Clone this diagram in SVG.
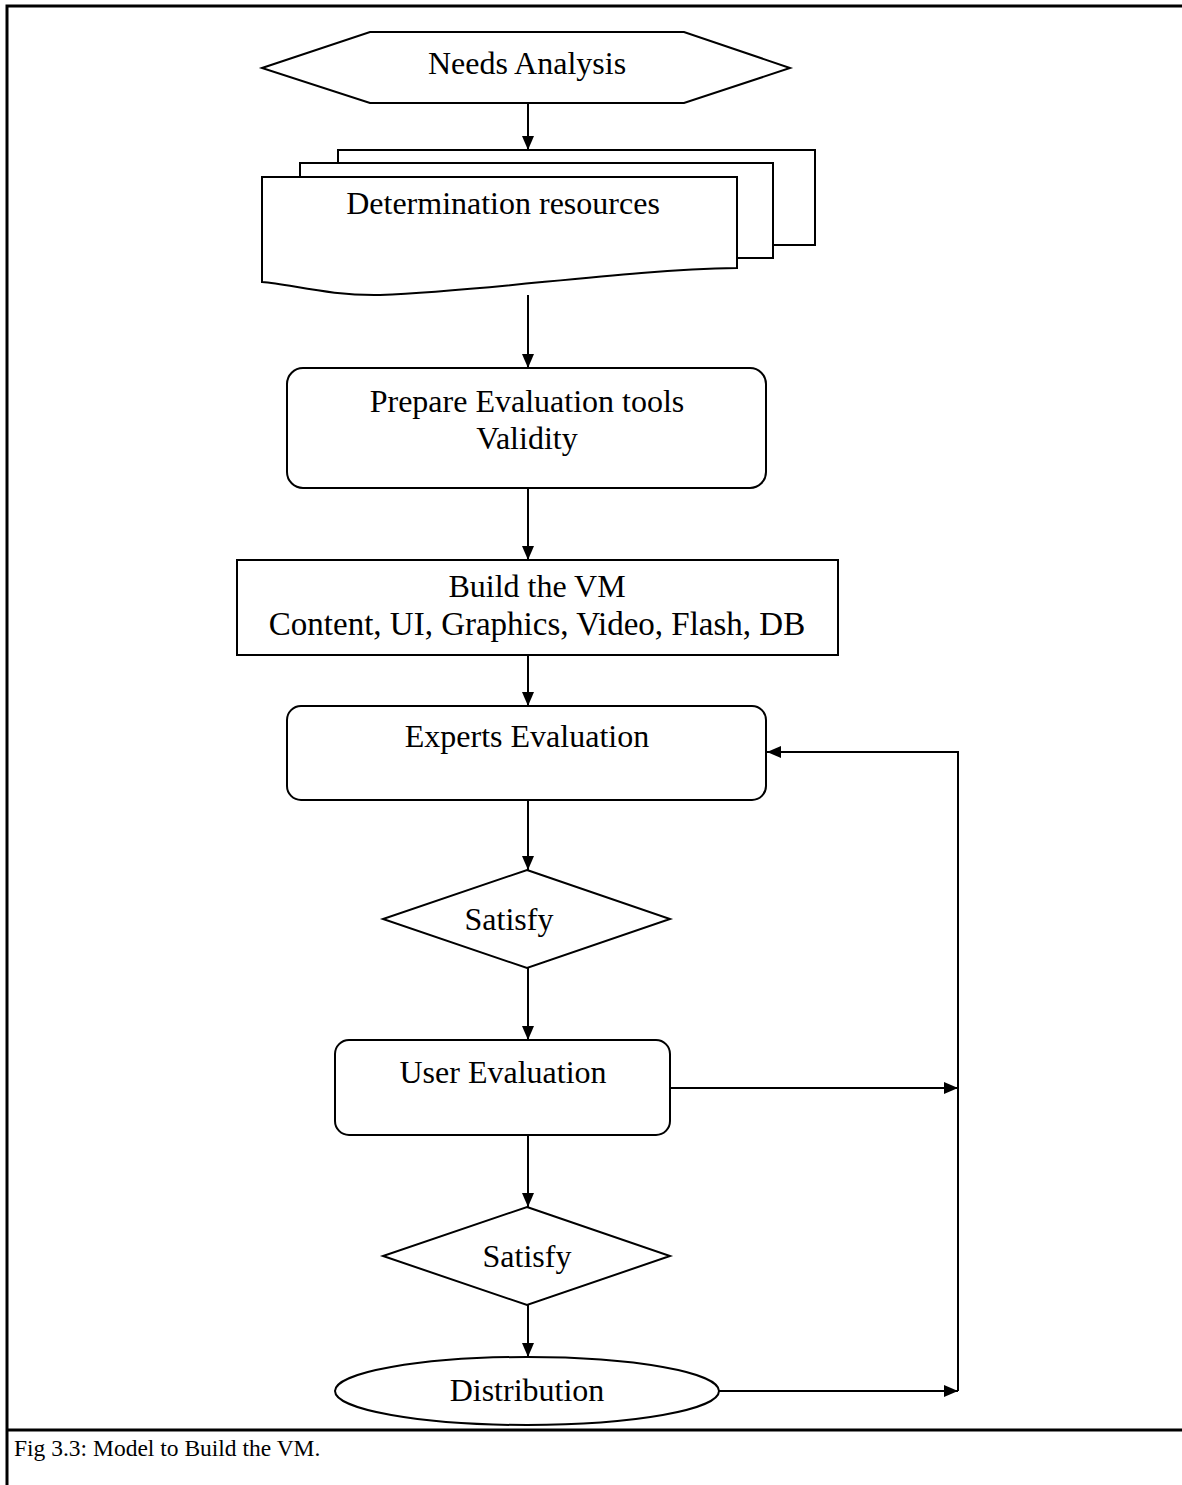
<svg xmlns="http://www.w3.org/2000/svg" width="1182" height="1485" viewBox="0 0 1182 1485">
<style>
.s{fill:#fff;stroke:#000;stroke-width:2}
.t{font-family:"Liberation Serif","Times New Roman",serif;font-size:32px;fill:#000;text-anchor:middle}
.c{stroke:#000;stroke-width:2;fill:none}
.f{stroke:#000;stroke-width:3;fill:none}
</style>
<defs>
<marker id="ah" viewBox="0 0 14 12" refX="14" refY="6" markerWidth="14" markerHeight="12" markerUnits="userSpaceOnUse" orient="auto">
<path d="M0,0 L14,6 L0,12 Z" fill="#000"/>
</marker>
</defs>
<rect width="1182" height="1485" fill="#fff"/>
<g id="frame">
<path class="f" d="M7,1485 V6 H1182"/>
<path class="f" d="M7,1430 H1182"/>
<text x="14" y="1456" style="font-family:'Liberation Serif','Times New Roman',serif;font-size:23.5px">Fig 3.3: Model to Build the VM.</text>
</g>
<g id="connectors">
<line class="c" x1="528" y1="103" x2="528" y2="150" marker-end="url(#ah)"/>
<line class="c" x1="528" y1="295" x2="528" y2="368" marker-end="url(#ah)"/>
<line class="c" x1="528" y1="488" x2="528" y2="560" marker-end="url(#ah)"/>
<line class="c" x1="528" y1="655" x2="528" y2="706" marker-end="url(#ah)"/>
<line class="c" x1="528" y1="800" x2="528" y2="870" marker-end="url(#ah)"/>
<line class="c" x1="528" y1="968" x2="528" y2="1040" marker-end="url(#ah)"/>
<line class="c" x1="528" y1="1135" x2="528" y2="1207" marker-end="url(#ah)"/>
<line class="c" x1="528" y1="1305" x2="528" y2="1357" marker-end="url(#ah)"/>
<polyline class="c" points="958,1391 958,752 767,752" marker-end="url(#ah)"/>
<line class="c" x1="670" y1="1088" x2="958" y2="1088" marker-end="url(#ah)"/>
<line class="c" x1="719" y1="1391" x2="958" y2="1391" marker-end="url(#ah)"/>
</g>
<g id="needs-analysis">
<polygon class="s" points="262,68 370,32 684,32 790,68 684,103 370,103"/>
<text class="t" x="527" y="74">Needs Analysis</text>
</g>
<g id="determination-resources">
<rect class="s" x="338" y="150" width="477" height="95"/>
<rect class="s" x="300" y="163" width="473" height="95"/>
<path class="s" d="M262,177 H737 V268 C620,270 500,290 380,295 C330,296 290,284 262,282 Z"/>
<text class="t" x="503" y="214">Determination resources</text>
</g>
<g id="prepare-evaluation">
<rect class="s" x="287" y="368" width="479" height="120" rx="16"/>
<text class="t" x="527" y="412">Prepare Evaluation tools</text>
<text class="t" x="527" y="449">Validity</text>
</g>
<g id="build-vm">
<rect class="s" x="237" y="560" width="601" height="95"/>
<text class="t" x="537" y="597">Build the VM</text>
<text class="t" x="537" y="635" style="font-size:33px">Content, UI, Graphics, Video, Flash, DB</text>
</g>
<g id="experts-evaluation">
<rect class="s" x="287" y="706" width="479" height="94" rx="14"/>
<text class="t" x="527" y="747">Experts Evaluation</text>
</g>
<g id="satisfy-1">
<polygon class="s" points="527,870 670,919 527,968 383,919"/>
<text class="t" x="509" y="930">Satisfy</text>
</g>
<g id="user-evaluation">
<rect class="s" x="335" y="1040" width="335" height="95" rx="14"/>
<text class="t" x="503" y="1083">User Evaluation</text>
</g>
<g id="satisfy-2">
<polygon class="s" points="527,1207 670,1256 527,1305 383,1256"/>
<text class="t" x="527" y="1267">Satisfy</text>
</g>
<g id="distribution">
<ellipse class="s" cx="527" cy="1391" rx="192" ry="34"/>
<text class="t" x="527" y="1401">Distribution</text>
</g>
</svg>
